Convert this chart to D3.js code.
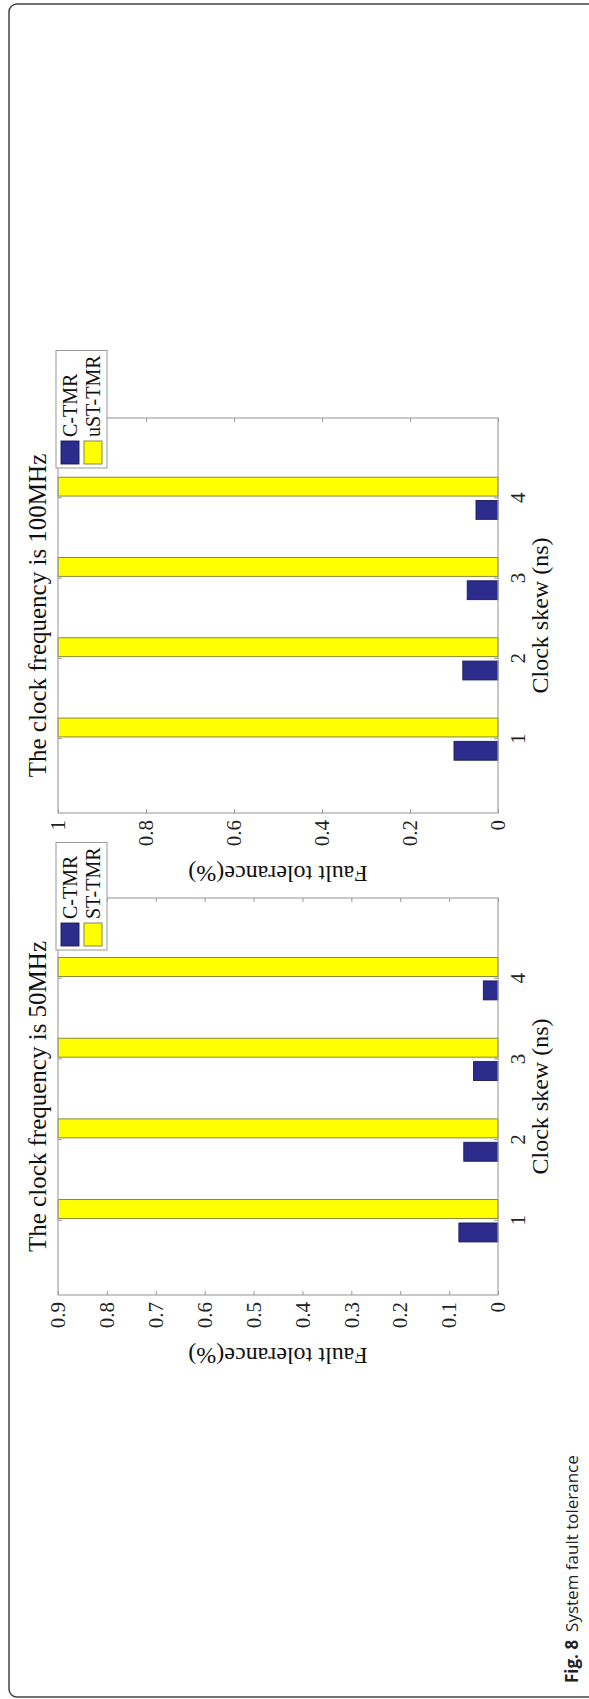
<!DOCTYPE html>
<html>
<head>
<meta charset="utf-8">
<script src="https://cdn.jsdelivr.net/npm/d3@7"></script>
<style>
  body { margin: 0; background: #fff; }
  svg { display: block; }
</style>
</head>
<body>
<svg id="chart" width="589" height="1699"></svg>
<script>
// data
const categories = [1, 2, 3, 4];
const seriesNames50 = ['C-TMR', 'ST-TMR'];
const cTmr50 = [0.08, 0.07, 0.05, 0.03];
const stTmr50 = [0.9, 0.9, 0.9, 0.9];
const ticks50 = [0, 0.1, 0.2, 0.3, 0.4, 0.5, 0.6, 0.7, 0.8, 0.9];

const seriesNames100 = ['C-TMR', 'uST-TMR'];
const cTmr100 = [0.10, 0.08, 0.07, 0.05];
const ustTmr100 = [1, 1, 1, 1];
const ticks100 = [0, 0.2, 0.4, 0.6, 0.8, 1];

const serif = '"Liberation Serif", "Times New Roman", serif';
const colors = ['#2c2c8c', '#ffff00'];
const edges = ['#1c1c5c', '#7d7d35'];

const svg = d3.select('#chart');

// rounded frame of the figure
svg.append('rect')
  .attr('x', 9).attr('y', 4)
  .attr('width', 620).attr('height', 1693)
  .attr('rx', 8)
  .attr('fill', 'none')
  .attr('stroke', '#444')
  .attr('stroke-width', 1.5);

// the whole figure is turned a quarter turn counter-clockwise,
// so each panel is drawn normally and then rotated
const plotLeft = 58;
const plotH = 440;

function drawPanel(p) {
  const W = p.bottom - p.top;
  const g = svg.append('g')
    .attr('transform', `translate(${plotLeft},${p.bottom}) rotate(-90)`);

  const x = d3.scaleLinear().domain([0.08, 5]).range([0, W]);
  const y = d3.scaleLinear().domain([0, p.yMax]).range([plotH, 0]);

  const series = [p.a, p.b];
  const offs = [-0.145, 0.145];
  const bw = 0.235;

  series.forEach((vals, si) => {
    g.append('g')
      .selectAll('rect')
      .data(vals)
      .enter().append('rect')
      .attr('x', (d, i) => x(categories[i] + offs[si] - bw / 2))
      .attr('width', x(1 + bw) - x(1))
      .attr('y', d => y(d))
      .attr('height', d => plotH - y(d))
      .attr('fill', colors[si])
      .attr('stroke', edges[si])
      .attr('stroke-width', 0.9);
  });

  // box
  g.append('rect')
    .attr('width', W).attr('height', plotH)
    .attr('fill', 'none')
    .attr('stroke', '#a6a6a6')
    .attr('stroke-width', 1.2);

  const fmt = d => d === 0 ? '0' : d3.format('~g')(d);

  const yAxis = g.append('g')
    .call(d3.axisLeft(y).tickValues(p.ticks).tickFormat(fmt).tickSize(-4).tickSizeOuter(0).tickPadding(7));
  g.append('g').attr('transform', `translate(${W},0)`)
    .call(d3.axisRight(y).tickValues(p.ticks).tickFormat('').tickSize(-4).tickSizeOuter(0));
  const xAxis = g.append('g').attr('transform', `translate(0,${plotH})`)
    .call(d3.axisBottom(x).tickValues(categories).tickFormat(d3.format('d')).tickSize(-4).tickSizeOuter(0).tickPadding(12));
  g.append('g')
    .call(d3.axisTop(x).tickValues(categories).tickFormat('').tickSize(-4).tickSizeOuter(0));

  g.selectAll('.domain').remove();
  g.selectAll('.tick line').attr('stroke', '#9a9a9a');
  [yAxis, xAxis].forEach(a => a.selectAll('text')
    .style('font-family', serif)
    .style('font-size', '21px')
    .attr('fill', '#222'));

  // title
  g.append('text')
    .attr('x', W / 2).attr('y', -12)
    .attr('text-anchor', 'middle')
    .style('font-family', serif).style('font-size', '25px')
    .attr('fill', '#111')
    .text(p.title);

  // axis titles
  g.append('text')
    .attr('x', W / 2).attr('y', plotH + 50)
    .attr('text-anchor', 'middle')
    .style('font-family', serif).style('font-size', '24px')
    .attr('fill', '#111')
    .text('Clock skew (ns)');

  g.append('text')
    .attr('transform', `translate(-53,${plotH / 2}) rotate(-90)`)
    .attr('text-anchor', 'middle')
    .style('font-family', serif).style('font-size', '24px')
    .attr('fill', '#111')
    .text('Fault tolerance(%)');

  // legend, up in the right corner before the rotation
  const lg = g.append('g');
  const box = lg.append('rect')
    .attr('x', 345).attr('y', -2)
    .attr('height', 51)
    .attr('fill', '#fff')
    .attr('stroke', '#999')
    .attr('stroke-width', 1);
  let maxEnd = 0;
  p.names.forEach((name, i) => {
    lg.append('rect')
      .attr('x', 349).attr('y', 3 + 23 * i)
      .attr('width', 23).attr('height', 18)
      .attr('fill', colors[i])
      .attr('stroke', edges[i])
      .attr('stroke-width', 0.9);
    const t = lg.append('text')
      .attr('x', 376).attr('y', 12 + 23 * i)
      .attr('dy', '0.35em')
      .style('font-family', serif).style('font-size', '20px')
      .attr('fill', '#111')
      .text(name);
    maxEnd = Math.max(maxEnd, 376 + t.node().getComputedTextLength());
  });
  box.attr('width', maxEnd + 5 - 345);
}

drawPanel({
  title: 'The clock frequency is 100MHz',
  names: seriesNames100, a: cTmr100, b: ustTmr100,
  yMax: 1, ticks: ticks100, top: 418, bottom: 813
});

drawPanel({
  title: 'The clock frequency is 50MHz',
  names: seriesNames50, a: cTmr50, b: stTmr50,
  yMax: 0.9, ticks: ticks50, top: 898, bottom: 1295
});

// caption, also turned
const cap = svg.append('text')
  .attr('transform', 'translate(578,1683) rotate(-90)')
  .style('font-family', '"Open Sans", "Noto Sans", sans-serif')
  .style('font-size', '17px')
  .attr('fill', '#222');
cap.append('tspan').style('font-weight', 'bold').text('Fig. 8');
cap.append('tspan').attr('dx', 8).text('System fault tolerance');
</script>
</body>
</html>
